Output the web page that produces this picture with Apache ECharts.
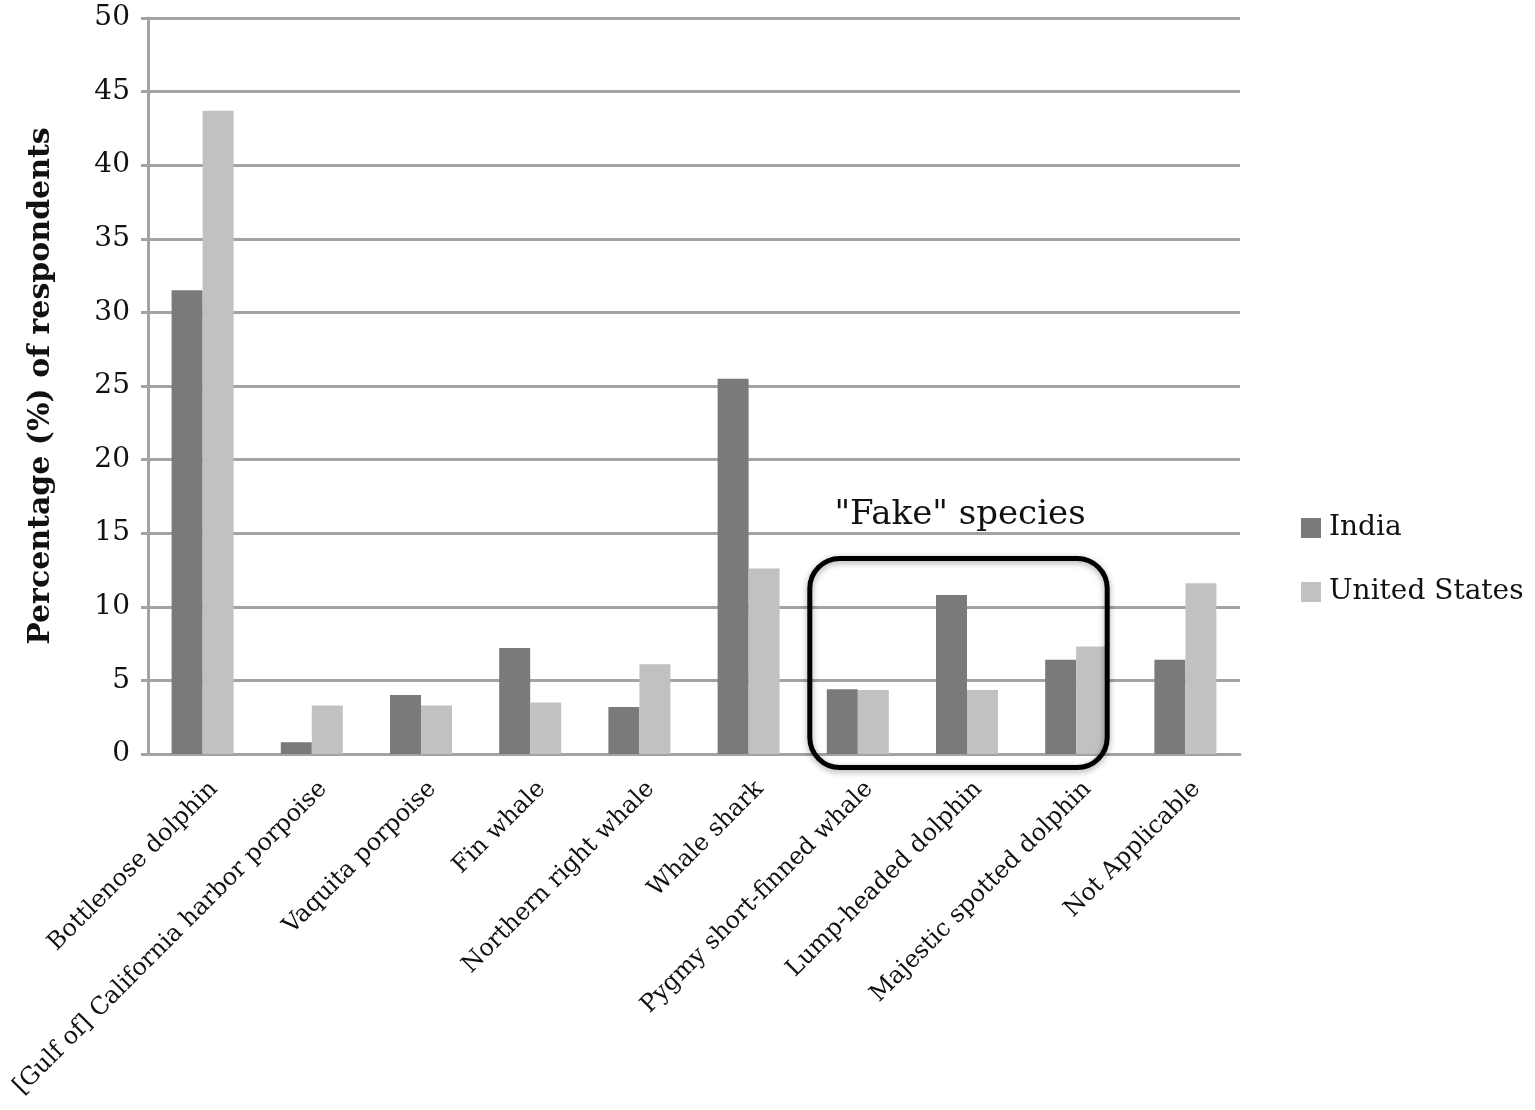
<!DOCTYPE html>
<html>
<head>
<meta charset="utf-8">
<script src="https://cdn.jsdelivr.net/npm/echarts@6/dist/echarts.min.js"></script>
<style>
  html, body { margin: 0; padding: 0; background: #fff; }
  #chart { width: 1535px; height: 1110px; }
</style>
</head>
<body>
<div id="chart"></div>
<script>
const species = [
  'Bottlenose dolphin',
  '[Gulf of] California harbor porpoise',
  'Vaquita porpoise',
  'Fin whale',
  'Northern right whale',
  'Whale shark',
  'Pygmy short-finned whale',
  'Lump-headed dolphin',
  'Majestic spotted dolphin',
  'Not Applicable'
];
const india = [31.5, 0.8, 4.0, 7.2, 3.2, 25.5, 4.4, 10.8, 6.4, 6.4];
const unitedStates = [43.7, 3.3, 3.3, 3.5, 6.1, 12.6, 4.35, 4.35, 7.3, 11.6];
// categories that sit inside the "Fake" species box
const fakeFirst = 'Pygmy short-finned whale';
const fakeLast = 'Majestic spotted dolphin';

const serif = '"DejaVu Serif", "Liberation Serif", serif';
const gridColor = '#a3a3a3';

const chart = echarts.init(document.getElementById('chart'));
const option = {
  backgroundColor: '#fff',
  animation: false,
  grid: { left: 148, right: 295, top: 18, bottom: 356 },
  legend: {
    orient: 'vertical',
    left: 1296,
    top: 509,
    icon: 'rect',
    itemWidth: 20,
    itemHeight: 20,
    itemGap: 36,
    textStyle: { fontFamily: serif, fontSize: 28, color: '#111', padding: [0, 0, 0, 3] },
    data: ['India', 'United States']
  },
  xAxis: {
    type: 'category',
    data: species,
    axisLine: { lineStyle: { color: gridColor, width: 3 } },
    axisTick: { show: false },
    axisLabel: {
      rotate: 45,
      interval: 0,
      margin: 20,
      verticalAlign: 'top',
      padding: [4, 0, 0, 0],
      fontFamily: serif,
      fontSize: 24,
      color: '#111'
    }
  },
  yAxis: {
    type: 'value',
    min: 0,
    max: 50,
    interval: 5,
    name: 'Percentage (%) of respondents',
    nameLocation: 'middle',
    nameGap: 92,
    nameTextStyle: { fontFamily: serif, fontSize: 30, fontWeight: 'bold', color: '#111' },
    axisLine: { show: true, lineStyle: { color: gridColor, width: 3 } },
    axisTick: { show: true, length: 7, lineStyle: { color: gridColor, width: 3 } },
    axisLabel: { fontFamily: serif, fontSize: 28, color: '#111', margin: 18 },
    splitLine: { lineStyle: { color: gridColor, width: 3 } }
  },
  series: [
    {
      name: 'India',
      type: 'bar',
      data: india,
      barWidth: 31,
      barGap: '0%',
      itemStyle: { color: '#7a7a7a' }
    },
    {
      name: 'United States',
      type: 'bar',
      data: unitedStates,
      barWidth: 31,
      itemStyle: { color: '#c1c1c1' }
    }
  ]
};
chart.setOption(option);

// annotation box around the fake species, placed from the axis scales
const x0 = chart.convertToPixel({ xAxisIndex: 0 }, fakeFirst);
const x1 = chart.convertToPixel({ xAxisIndex: 0 }, fakeLast);
const yTop = chart.convertToPixel({ yAxisIndex: 0 }, 13.28);
const yBot = chart.convertToPixel({ yAxisIndex: 0 }, -0.92);
const left = x0 - 48;
const right = x1 + 31;
chart.setOption({
  graphic: [
    {
      type: 'rect',
      z: 100,
      shape: { x: left, y: yTop, width: right - left, height: yBot - yTop, r: 30 },
      style: {
        fill: 'none',
        stroke: '#000',
        lineWidth: 5,
        shadowBlur: 6,
        shadowColor: 'rgba(0,0,0,0.35)',
        shadowOffsetY: 2
      }
    },
    {
      type: 'text',
      z: 100,
      style: {
        text: '"Fake" species',
        x: (x0 + x1) / 2 - 7,
        y: chart.convertToPixel({ yAxisIndex: 0 }, 16.2),
        align: 'center',
        verticalAlign: 'middle',
        fontFamily: serif,
        fontSize: 34,
        fill: '#111'
      }
    }
  ]
});
</script>
</body>
</html>
